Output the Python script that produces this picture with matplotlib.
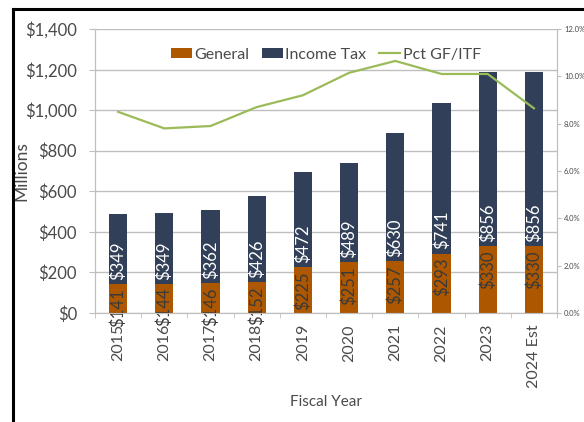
import numpy as np
import matplotlib.pyplot as plt
from matplotlib.lines import Line2D
from matplotlib.ticker import FuncFormatter, MultipleLocator

plt.rcParams['font.family'] = ['Lato', 'DejaVu Sans']

years = ['2015', '2016', '2017', '2018', '2019', '2020', '2021', '2022', '2023', '2024 Est']
general = [141, 144, 146, 152, 225, 251, 257, 293, 330, 330]
income_tax = [349, 349, 362, 426, 472, 489, 630, 741, 856, 856]
pct_gf_itf = [8.5, 7.8, 7.9, 8.7, 9.2, 10.15, 10.65, 10.1, 10.1, 8.65]

c_gen = '#AD5800'
c_inc = '#323F58'
c_line = '#9BBB59'
c_grid = '#BFBFBF'
c_text = '#4A4A4A'

fig = plt.figure(figsize=(5.84, 4.22), dpi=100)
ax = fig.add_axes([95/584, 1-313/422, 462/584, 284/422])
x = np.arange(len(years))
w = 0.39

b1 = ax.bar(x, general, w, color=c_gen, label='General', zorder=3)
b2 = ax.bar(x, income_tax, w, bottom=general, color=c_inc, label='Income Tax', zorder=3)

# value labels sit on the boundary between the two segments
for i in range(len(years)):
    ax.annotate('$%d' % general[i], (x[i], general[i]), xytext=(0, -3),
                textcoords='offset points', rotation=90, ha='center', va='top',
                fontsize=12, color='#3A3A3A', zorder=5)
    ax.annotate('$%d' % income_tax[i], (x[i], general[i]), xytext=(0, 3),
                textcoords='offset points', rotation=90, ha='center', va='bottom',
                fontsize=12, color='white', zorder=5)

ax.set_xlim(-0.5, len(years) - 0.5)
ax.set_ylim(0, 1400)
ax.yaxis.set_major_locator(MultipleLocator(200))
ax.yaxis.set_major_formatter(FuncFormatter(lambda v, p: '${:,.0f}'.format(v)))
ax.grid(axis='y', color=c_grid, lw=1, zorder=0)
ax.set_xticks(x)
ax.set_xticklabels(years, rotation=90)
ax.set_xticks(np.arange(-0.5, len(years)), minor=True)
ax.tick_params(axis='x', which='major', length=0, pad=8, labelsize=11.5, labelcolor=c_text)
ax.tick_params(axis='x', which='minor', length=3.5, color=c_grid)
ax.tick_params(axis='y', length=4, color=c_grid, pad=9, labelsize=12, labelcolor=c_text)
for s in ax.spines.values():
    s.set_color(c_grid)
ax.spines['top'].set_visible(False)

ax.set_ylabel('Millions', fontsize=12.5, color=c_text)
ax.yaxis.set_label_coords(-0.141, 0.5)
ax.set_xlabel('Fiscal Year', fontsize=11, color=c_text)
ax.xaxis.set_label_coords(0.5, -0.29)

ax2 = ax.twinx()
ln, = ax2.plot(x, pct_gf_itf, color=c_line, lw=1.6, label='Pct GF/ITF', zorder=4)
ax2.set_ylim(0, 12)
ax2.yaxis.set_major_locator(MultipleLocator(2))
ax2.yaxis.set_major_formatter(FuncFormatter(lambda v, p: '%.1f%%' % v))
ax2.tick_params(axis='y', length=3, color=c_grid, pad=2, labelsize=5.5, labelcolor=c_text)
for s in ax2.spines.values():
    s.set_color(c_grid)
ax2.spines['top'].set_visible(False)

ax.legend(handles=[b1, b2, ln], loc='upper center', bbox_to_anchor=(0.5, 0.985), ncol=3,
          frameon=False, fontsize=11.5, labelcolor=c_text, handlelength=1.3,
          handletextpad=0.15, columnspacing=0.8, handleheight=0.6)

# frame lines along the top and left edges
fig.add_artist(Line2D([13/584, 13/584], [0, 1-9/422], color='black', lw=2.2))
fig.add_artist(Line2D([13/584, 1], [1-9/422, 1-9/422], color='black', lw=2.2))

fig.savefig('out.png', dpi=100)
